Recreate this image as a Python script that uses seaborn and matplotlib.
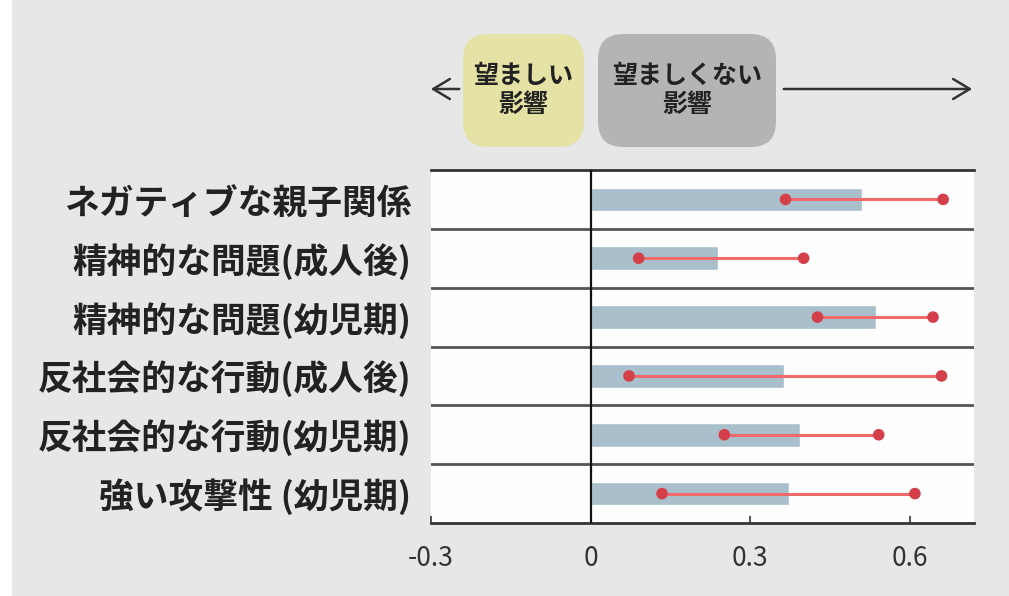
import matplotlib
matplotlib.use("Agg")
import matplotlib.pyplot as plt
from matplotlib.patches import FancyBboxPatch, Rectangle
import seaborn as sns
import pandas as pd

categories = ["ネガティブな親子関係", "精神的な問題(成人後)", "精神的な問題(幼児期)",
              "反社会的な行動(成人後)", "反社会的な行動(幼児期)", "強い攻撃性 (幼児期)"]
effect = [0.51, 0.24, 0.535, 0.364, 0.394, 0.373]
ci_low = [0.366, 0.09, 0.426, 0.072, 0.251, 0.134]
ci_high = [0.662, 0.40, 0.643, 0.659, 0.541, 0.609]
xticks = [-0.3, 0, 0.3, 0.6]
xtick_labels = ["-0.3", "0", "0.3", "0.6"]

sns.set_theme(style="white")
plt.rcParams['font.family'] = ['Noto Sans CJK JP', 'DejaVu Sans']

df = pd.DataFrame({"category": categories, "effect": effect,
                   "low": ci_low, "high": ci_high})

fig = plt.figure(figsize=(10.09, 5.96), dpi=100, facecolor="white")
fig.patches.append(Rectangle((12 / 1009, 0), 1, 1, transform=fig.transFigure,
                             facecolor="#e7e7e7", edgecolor="none", zorder=-10))

ax = fig.add_axes([431 / 1009, 73 / 596, (974 - 431) / 1009, (523 - 170) / 596])
ax.set_facecolor("#fefefe")

sns.barplot(data=df, y="category", x="effect", orient="h", color="#a9bfcc",
            saturation=1, width=0.4, ax=ax, zorder=2)

ypos = list(range(len(categories)))
ax.hlines(ypos, df["low"], df["high"], color="#ef6a6a", lw=2.2, zorder=3)
sns.scatterplot(x=list(df["low"]) + list(df["high"]), y=ypos + ypos,
                color="#d4404a", s=70, edgecolor="none", ax=ax, zorder=4,
                legend=False)

ax.set_xlim(-0.3, 0.72)
ax.set_ylim(len(categories) - 0.5, -0.5)
for b in range(len(categories) - 1):
    ax.axhline(b + 0.5, color="#555555", lw=2, zorder=1)
ax.axvline(0, color="#111111", lw=1.6, zorder=5)

for s in ["left", "right"]:
    ax.spines[s].set_visible(False)
for s in ["top", "bottom"]:
    ax.spines[s].set_visible(True)
    ax.spines[s].set_color("#333333")
    ax.spines[s].set_linewidth(2)

ax.set_xticks(xticks)
ax.set_xticklabels(xtick_labels, fontsize=19, color="#333333")
ax.tick_params(axis="x", direction="in", length=5, width=1.2, color="#333333", pad=16,
               bottom=True)
ax.tick_params(axis="y", length=0, pad=14)
ax.set_yticks(ypos)
ax.set_yticklabels(categories, fontsize=25, fontweight="bold", color="#222222")
ax.set_xlabel("")
ax.set_ylabel("")


def fig_box(x0, y0, x1, y1, color, text):
    w = (x1 - x0) / 1009
    h = (y1 - y0) / 596
    box = FancyBboxPatch((x0 / 1009, 1 - y1 / 596), w, h,
                         boxstyle="round,pad=0,rounding_size=0.025",
                         transform=fig.transFigure, facecolor=color,
                         edgecolor="none", mutation_aspect=1.7)
    fig.patches.append(box)
    fig.text((x0 + x1) / 2 / 1009, 1 - (y0 + y1) / 2 / 596, text, ha="center",
             va="center", fontsize=18, fontweight="bold", color="#222222",
             linespacing=1.25)


fig_box(463, 34, 584, 147, "#e5e2a6", "望ましい\n影響")
fig_box(598, 34, 776, 147, "#b4b4b4", "望ましくない\n影響")

ay = 1 - 89 / 596
arr = dict(arrowstyle="->,head_length=1.0,head_width=0.6", color="#333333", lw=1.8)
ax.annotate("", xy=(428 / 1009, ay), xytext=(462 / 1009, ay), xycoords="figure fraction",
            textcoords="figure fraction", arrowprops=arr, annotation_clip=False)
ax.annotate("", xy=(975 / 1009, ay), xytext=(781 / 1009, ay), xycoords="figure fraction",
            textcoords="figure fraction", arrowprops=arr, annotation_clip=False)

fig.savefig("out.png", dpi=100, facecolor=fig.get_facecolor())
